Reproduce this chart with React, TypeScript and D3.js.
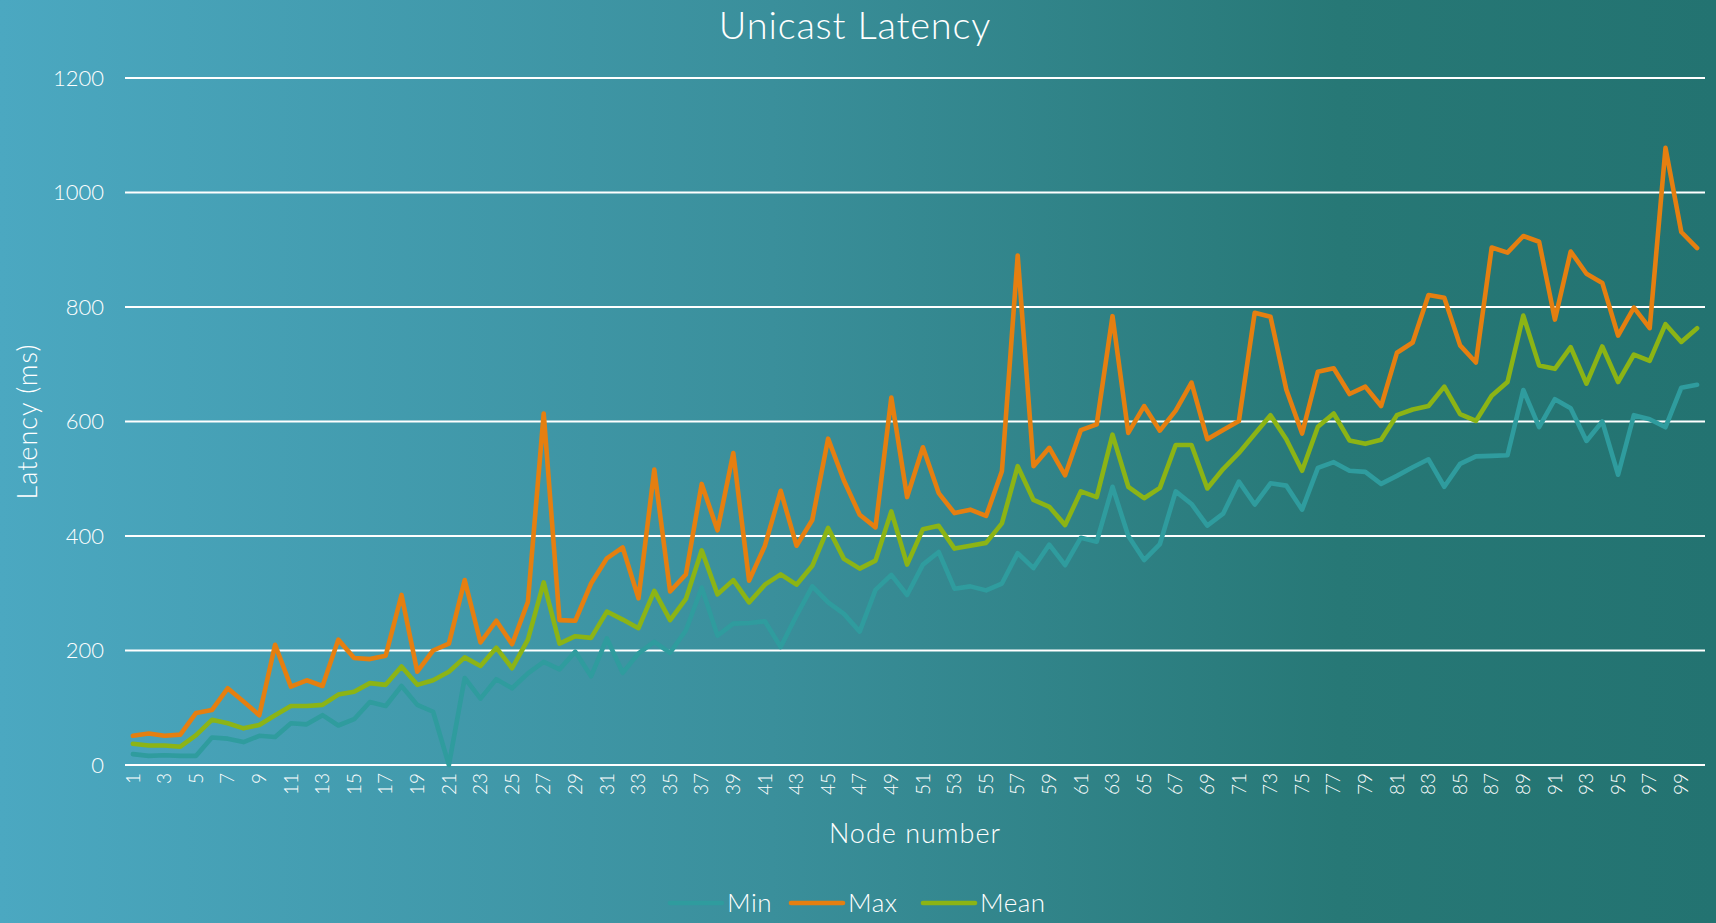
import React, { useEffect, useRef } from 'react'
import * as d3 from 'd3'

// node ids 1..100
const nodes: number[] = Array.from({ length: 100 }, (_, i) => i + 1)

const minLatency: number[] = [
  19, 16, 17, 16, 16, 48, 46, 40, 51, 49,
  73, 71, 87, 69, 80, 110, 103, 138, 105, 93,
  0, 152, 116, 150, 134, 160, 180, 167, 198, 155,
  221, 161, 195, 215, 196, 235, 310, 226, 247, 248,
  251, 206, 261, 312, 284, 264, 233, 306, 332, 297,
  350, 372, 308, 312, 305, 317, 370, 344, 385, 349,
  397, 390, 486, 400, 358, 386, 478, 456, 418, 439,
  495, 455, 492, 488, 446, 519, 529, 514, 512, 491,
  505, 520, 534, 486, 526, 539, 540, 541, 655, 590,
  639, 623, 566, 600, 507, 611, 604, 590, 659, 664,
]

const maxLatency: number[] = [
  51, 55, 51, 53, 91, 96, 134, 111, 87, 210,
  137, 148, 138, 219, 187, 185, 191, 297, 163, 200,
  212, 323, 214, 252, 211, 285, 614, 253, 252, 317,
  361, 380, 291, 516, 303, 333, 491, 410, 545, 322,
  383, 479, 383, 428, 570, 497, 437, 415, 642, 468,
  555, 475, 440, 446, 435, 513, 890, 522, 554, 506,
  585, 595, 784, 580, 627, 584, 619, 668, 569, 585,
  601, 790, 783, 656, 579, 687, 693, 648, 661, 627,
  720, 738, 821, 816, 733, 703, 904, 895, 924, 914,
  778, 897, 858, 842, 750, 799, 763, 1078, 931, 903,
]

const meanLatency: number[] = [
  37, 34, 34, 32, 52, 79, 73, 64, 70, 87,
  103, 103, 105, 123, 128, 143, 140, 172, 140, 148,
  163, 188, 173, 205, 169, 219, 319, 212, 225, 222,
  268, 254, 239, 304, 253, 290, 375, 298, 323, 284,
  315, 333, 315, 348, 414, 360, 343, 357, 443, 350,
  412, 418, 378, 383, 388, 422, 522, 463, 451, 419,
  478, 468, 577, 486, 466, 484, 559, 559, 483, 517,
  545, 578, 611, 569, 514, 591, 614, 567, 561, 568,
  611, 621, 627, 661, 613, 601, 645, 669, 785, 698,
  692, 730, 666, 731, 669, 717, 706, 770, 739, 763,
]

const yTicks: number[] = [0, 200, 400, 600, 800, 1000, 1200]

const seriesNames: string[] = ['Min', 'Max', 'Mean']
const seriesColors: string[] = ['#2f9c9e', '#e57f10', '#8cb415']

const FONT = "Lato, 'Open Sans', sans-serif"

function App() {
  const chartRef = useRef<HTMLDivElement>(null)

  useEffect(() => {
    drawChart()
  }, [])

  function drawChart() {
    const width = 1716,
      height = 923
    const margin = { top: 78, right: 11, bottom: 158, left: 125 }

    d3.select(chartRef.current).selectAll('*').remove()

    const svg = d3
      .select(chartRef.current)
      .append('svg')
      .attr('width', width)
      .attr('height', height)
      .style('display', 'block')

    const grad = svg
      .append('defs')
      .append('linearGradient')
      .attr('id', 'bg')
      .attr('x1', '0%')
      .attr('x2', '100%')
      .attr('y1', '0%')
      .attr('y2', '0%')
    grad.append('stop').attr('offset', '0%').attr('stop-color', '#4ba8c1')
    grad.append('stop').attr('offset', '45%').attr('stop-color', '#3a8f9b')
    grad.append('stop').attr('offset', '78%').attr('stop-color', '#277876')
    grad.append('stop').attr('offset', '100%').attr('stop-color', '#237371')

    svg.append('rect').attr('width', width).attr('height', height).attr('fill', 'url(#bg)')

    const x = d3
      .scaleBand<number>()
      .domain(nodes)
      .range([margin.left, width - margin.right])

    const y = d3
      .scaleLinear()
      .domain([0, 1200])
      .range([height - margin.bottom, margin.top])

    // gridlines
    svg
      .append('g')
      .selectAll('line')
      .data(yTicks)
      .enter()
      .append('line')
      .attr('x1', margin.left)
      .attr('x2', width - margin.right)
      .attr('y1', (d) => y(d))
      .attr('y2', (d) => y(d))
      .attr('stroke', '#ffffff')
      .attr('stroke-width', 2)

    // y tick labels
    svg
      .append('g')
      .selectAll('text')
      .data(yTicks)
      .enter()
      .append('text')
      .attr('x', 104)
      .attr('y', (d) => y(d))
      .attr('dy', '0.35em')
      .attr('text-anchor', 'end')
      .attr('fill', '#ffffff')
      .style('font-family', FONT)
      .style('font-size', '22px')
      .style('font-weight', 300)
      .text((d) => d)

    // x tick labels, every other node, rotated
    svg
      .append('g')
      .selectAll('text')
      .data(nodes.filter((n) => n % 2 === 1))
      .enter()
      .append('text')
      .attr('transform', (d) => 'translate(' + (x(d)! + x.bandwidth() / 2) + ',' + (height - margin.bottom + 8) + ') rotate(-90)')
      .attr('dy', '0.35em')
      .attr('text-anchor', 'end')
      .attr('fill', '#ffffff')
      .style('font-family', FONT)
      .style('font-size', '19px')
      .style('font-weight', 300)
      .text((d) => d)

    const allSeries = [minLatency, maxLatency, meanLatency]

    const line = d3
      .line<number>()
      .x((d, i) => x(nodes[i])! + x.bandwidth() / 2)
      .y((d) => y(d))

    allSeries.forEach((vals, i) => {
      svg
        .append('path')
        .datum(vals)
        .attr('d', line)
        .attr('fill', 'none')
        .attr('stroke', seriesColors[i])
        .attr('stroke-width', 4.6)
        .attr('stroke-linejoin', 'round')
        .attr('stroke-linecap', 'round')
    })

    // title
    svg
      .append('text')
      .attr('x', 855)
      .attr('y', 39)
      .attr('text-anchor', 'middle')
      .attr('fill', '#ffffff')
      .style('font-family', FONT)
      .style('font-size', '38px')
      .style('font-weight', 300)
      .style('letter-spacing', '0.8px')
      .text('Unicast Latency')

    // axis titles
    svg
      .append('text')
      .attr('transform', 'translate(37,' + y(600) + ') rotate(-90)')
      .attr('text-anchor', 'middle')
      .attr('fill', '#ffffff')
      .style('font-family', FONT)
      .style('font-size', '27px')
      .style('font-weight', 300)
      .style('letter-spacing', '1px')
      .text('Latency (ms)')

    svg
      .append('text')
      .attr('x', (margin.left + width - margin.right) / 2)
      .attr('y', 843)
      .attr('text-anchor', 'middle')
      .attr('fill', '#ffffff')
      .style('font-family', FONT)
      .style('font-size', '27px')
      .style('font-weight', 300)
      .style('letter-spacing', '1px')
      .text('Node number')

    // legend
    const legendX = [670, 791, 923]
    const legend = svg
      .append('g')
      .selectAll('g')
      .data(seriesNames)
      .enter()
      .append('g')
      .attr('transform', (d, i) => 'translate(' + legendX[i] + ',903)')
    legend
      .append('line')
      .attr('x1', 0)
      .attr('x2', 52)
      .attr('stroke', (d, i) => seriesColors[i])
      .attr('stroke-width', 4.6)
      .attr('stroke-linecap', 'round')
    legend
      .append('text')
      .attr('x', 57)
      .attr('dy', '0.35em')
      .attr('fill', '#ffffff')
      .style('font-family', FONT)
      .style('font-size', '26px')
      .style('font-weight', 300)
      .style('letter-spacing', '0.5px')
      .text((d) => d)
  }

  return (
    <div style={{ position: 'fixed', left: 0, top: 0 }}>
      <div ref={chartRef}></div>
    </div>
  )
}

export default App
